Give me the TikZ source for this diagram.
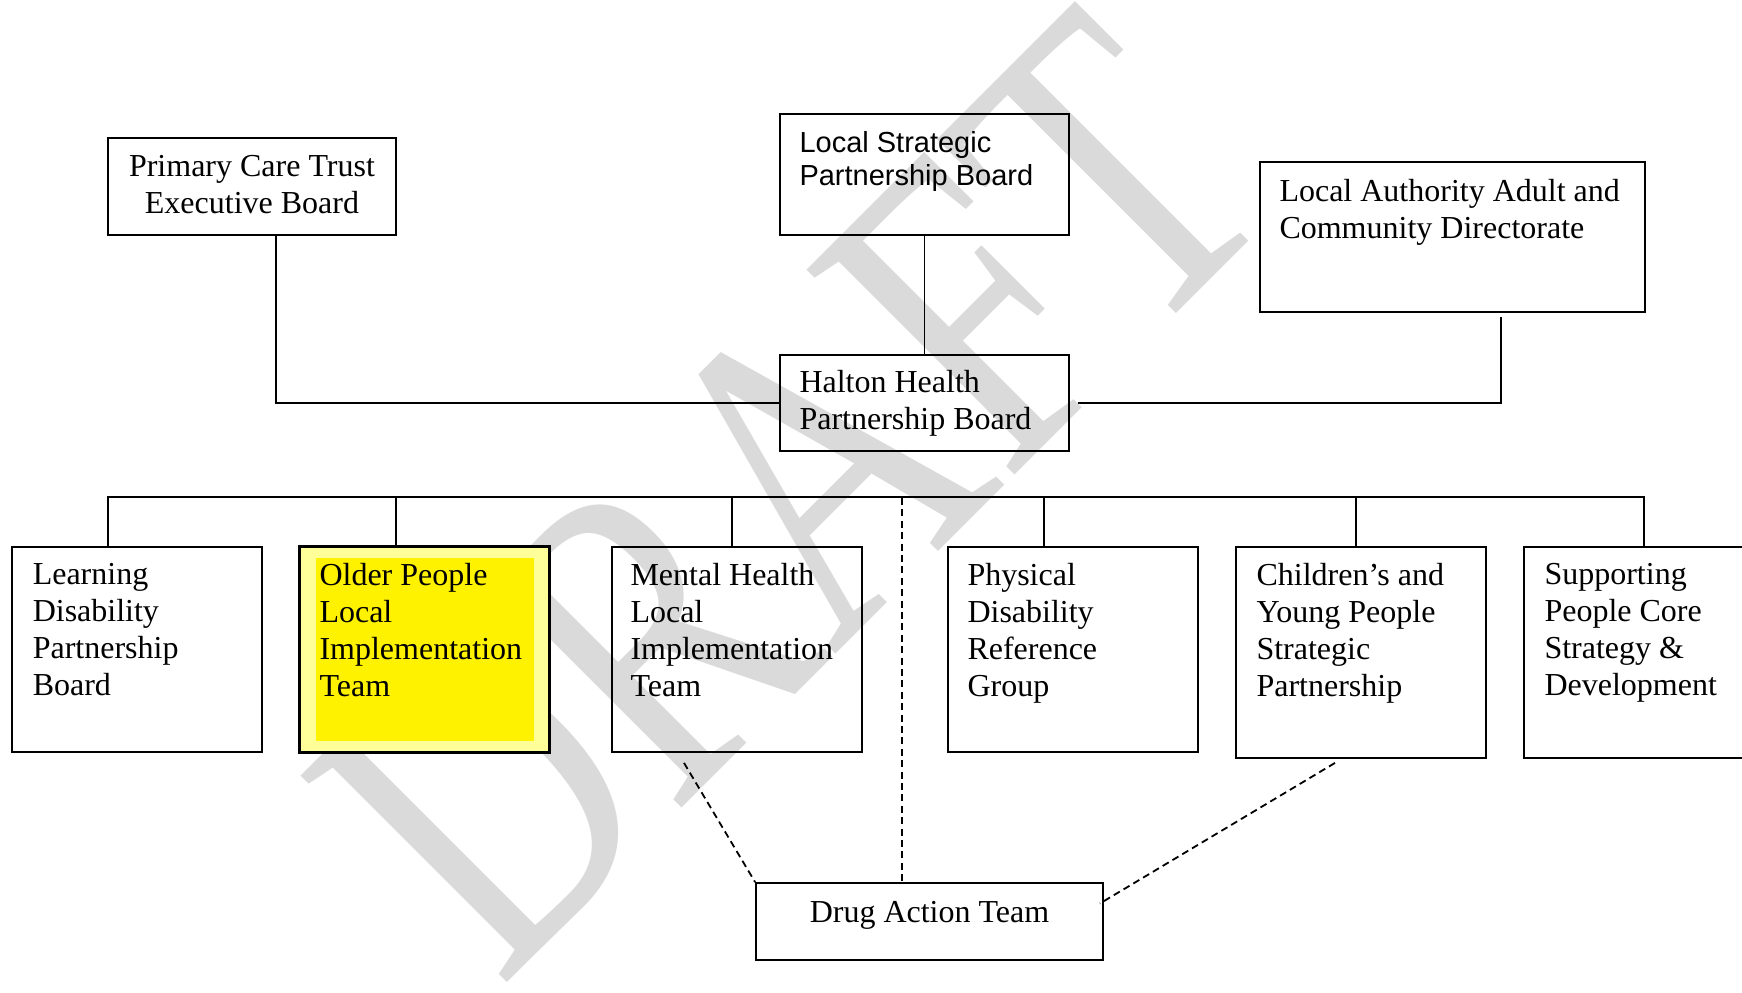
\documentclass[tikz,border=0pt]{standalone}
\usepackage{fontspec}
\setmainfont{Liberation Serif}
\newfontfamily\arialfont{Liberation Sans}
\usetikzlibrary{ positioning, % For easy node-relative placements
                 calc,        % For small offsets from anchors
               }
\definecolor{paleyellow}{RGB}{255,255,153}
\definecolor{draftgrey}{RGB}{218,218,218}
\tikzstyle{board} = [rectangle, draw=black, line width=0.9pt, inner sep=0pt]
\tikzstyle{board_txt} = [inner sep=0pt, align=left, font=\fontsize{16}{18.5}\selectfont]
\tikzstyle{board_sans} = [inner sep=0pt, align=left, font=\arialfont\fontsize{14.5}{16.5}\selectfont]
\tikzstyle{link} = [line width=0.9pt]
\tikzstyle{link_dashed} = [line width=0.9pt, dash pattern=on 3.5pt off 2.2pt]
\tikzstyle{watermark} = [text=draftgrey, inner sep=0pt, rotate=45, xscale=0.76, font=\fontsize{223}{223}\selectfont]

\begin{document}
\begin{tikzpicture}[x=0.5pt, y=-0.5pt]
  \useasboundingbox (0,0) rectangle (1742,992);
  \clip (0,0) rectangle (1742,992);

  % watermark behind everything
  \node (draft) [watermark, anchor=base west] at (500,990) {DRAFT};

  % top row
  \node (pct) [board, minimum width=144pt, minimum height=48.5pt] at (252,186.5) {};
  \node (pct_t) [board_txt, align=center, below=9pt of pct.north] {Primary Care Trust\\Executive Board};

  \node (lsp) [board, minimum width=144.5pt, minimum height=60.5pt] at (924.5,174.5) {};
  \node (lsp_t) [board_sans, below right=9pt and 10pt of lsp.north west] {Local Strategic\\Partnership Board};

  \node (laac) [board, minimum width=192.5pt, minimum height=75pt] at (1452.5,237) {};
  \node (laac_t) [board_txt, below right=9pt and 10pt of laac.north west] {Local Authority Adult and\\Community Directorate};

  \node (hhp) [board, minimum width=144.5pt, minimum height=48pt] at (924.5,403) {};
  \node (hhp_t) [board_txt, below right=8pt and 10pt of hhp.north west] {Halton Health\\Partnership Board};

  % groups
  \node (ld) [board, minimum width=125pt, minimum height=102.5pt] at (136.75,649.5) {};
  \node (ld_t) [board_txt, below right=8.5pt and 10.75pt of ld.north west] {Learning\\Disability\\Partnership\\Board};

  \node (op) [board, fill=paleyellow, minimum width=124.5pt, minimum height=102.5pt] at (424.5,649.5) {};
  \node (op_in) [fill=yellow, inner sep=0pt, minimum width=109pt, minimum height=91.5pt] at (425,649.5) {};
  \node (op_t) [board_txt, below right=8.5pt and 10pt of op.north west] {Older People\\Local\\Implementation\\Team};
  \draw [link] (op.north west) rectangle (op.south east);

  \node (mh) [board, minimum width=125pt, minimum height=102.5pt] at (737,649.5) {};
  \node (mh_t) [board_txt, below right=8.5pt and 9.5pt of mh.north west] {Mental Health\\Local\\Implementation\\Team};

  \node (pd) [board, minimum width=125pt, minimum height=102.5pt] at (1073,649.5) {};
  \node (pd_t) [board_txt, below right=8.5pt and 10pt of pd.north west] {Physical\\Disability\\Reference\\Group};

  \node (cyp) [board, minimum width=125pt, minimum height=105.5pt] at (1361,652.5) {};
  \node (cyp_t) [board_txt, below right=8.5pt and 10.5pt of cyp.north west] {Children’s and\\Young People\\Strategic\\Partnership};

  \node (sp) [board, minimum width=125pt, minimum height=105.5pt] at (1649,652.5) {};
  \node (sp_t) [board_txt, below right=8.5pt and 10.5pt of sp.north west] {Supporting\\People Core\\Strategy \&\\Development};

  \node (dat) [board, minimum width=173.5pt, minimum height=38.5pt] at (929.5,921.5) {};
  \node (dat_t) [board_txt, align=center, below=9.5pt of dat.north] {Drug Action Team};

  % solid links
  \draw [link] (hhp.west) -| ($(pct.south)+(24,0)$);
  \draw [link] (lsp) -- (hhp);
  \draw [link] ($(hhp.east)+(8,0)$) -| ($(laac.south)+(48.5,4)$);
  \draw [link, line cap=rect] ($(ld.north)+(-29,-49)$) -- ($(sp.north)+(-5,-49)$);
  \foreach \b/\dx in {ld/-29, op/-28.5, mh/-5, pd/-29, cyp/-5, sp/-5}
    \draw [link] ($(\b.north)+(\dx,0)$) -- ++(0,-49);

  % dashed links to the drug action team
  \coordinate (bus_dat) at (902,498);
  \draw [link_dashed] (bus_dat) -- (bus_dat |- dat.north);
  \draw [link_dashed] ($(mh.south)+(-53,10)$) -- (dat.north west);
  \draw [link_dashed] ($(cyp.south)+(-26,4)$) -- ($(dat.east)+(-4,-18)$);
\end{tikzpicture}
\end{document}
